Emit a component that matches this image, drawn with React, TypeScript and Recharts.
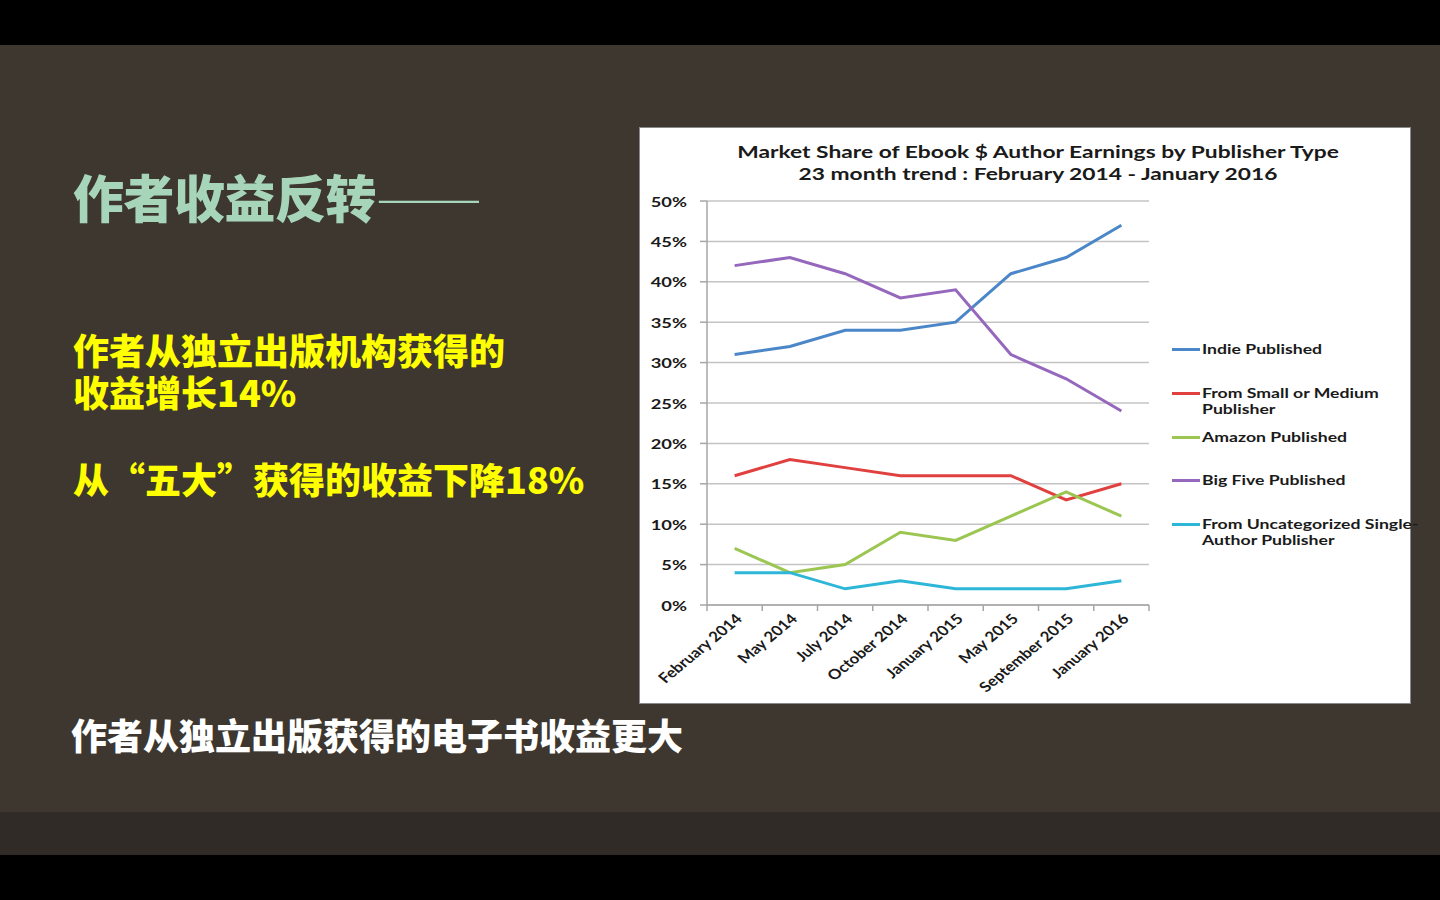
import React from 'react';
import { LineChart, Line, XAxis, YAxis, CartesianGrid } from 'recharts';

const categories = ['February 2014', 'May 2014', 'July 2014', 'October 2014', 'January 2015', 'May 2015', 'September 2015', 'January 2016'];
const indiePublished = [31, 32, 34, 34, 35, 41, 43, 47];
const smallMediumPublisher = [16, 18, 17, 16, 16, 16, 13, 15];
const amazonPublished = [7, 4, 5, 9, 8, 11, 14, 11];
const bigFivePublished = [42, 43, 41, 38, 39, 31, 28, 24];
const uncategorizedPublisher = [4, 4, 2, 3, 2, 2, 2, 3];
const yTicks = [0, 5, 10, 15, 20, 25, 30, 35, 40, 45, 50];

const chartTitle = ['Market Share of Ebook $ Author Earnings by Publisher Type', '23 month trend : February 2014 - January 2016'];
const slideTitle = '作者收益反转';
const slideTitleDash = '——';
const bulletA = ['作者从独立出版机构获得的', '收益增长14%'];
const bulletB = '从“五大”获得的收益下降18%';
const footer = '作者从独立出版获得的电子书收益更大';

const series = [
  { key: 'indie', name: ['Indie Published'], color: '#4b87c8', values: indiePublished },
  { key: 'small', name: ['From Small or Medium', 'Publisher'], color: '#e0403e', values: smallMediumPublisher },
  { key: 'amazon', name: ['Amazon Published'], color: '#9cc652', values: amazonPublished },
  { key: 'big', name: ['Big Five Published'], color: '#9568bd', values: bigFivePublished },
  { key: 'uncat', name: ['From Uncategorized Single-', 'Author Publisher'], color: '#2db6d7', values: uncategorizedPublisher },
];

const data = categories.map((c, i) => {
  const row: any = { x: i + 0.5, month: c };
  series.forEach((s) => { row[s.key] = s.values[i]; });
  return row;
});

const xTicks: number[] = [];
categories.forEach((_, i) => { xTicks.push(i, i + 0.5); });
xTicks.push(categories.length);

const FONT = 'Lato, "Open Sans", sans-serif';
const CJK = '"Noto Sans CJK SC", sans-serif';

const YTick = (props: any) => {
  const { x, y, payload } = props;
  return (
    <text transform={`translate(${x},${y}) scale(1.31,1)`} textAnchor="end" dominantBaseline="central"
      fontFamily={FONT} fontWeight={700} fontSize={14} fill="#1a1a1a">
      {`${payload.value}%`}
    </text>
  );
};

const XTick = (props: any) => {
  const { x, y, payload } = props;
  const v = payload.value;
  if (Number.isInteger(v)) {
    return <line x1={x} x2={x} y1={y} y2={y + 6} stroke="#a6a6a6" strokeWidth={1.5} />;
  }
  const label = categories[Math.floor(v)];
  return (
    <text transform={`translate(${x + 4},${y + 11}) scale(1.21,1) rotate(-45)`} textAnchor="end" dominantBaseline="central"
      fontFamily={FONT} fontWeight={700} fontSize={14} fill="#1a1a1a">
      {label}
    </text>
  );
};

export default function App() {
  return (
    <div style={{ position: 'fixed', left: 0, top: 0, width: 1440, height: 900, background: '#000', overflow: 'hidden' }}>
      <div style={{ position: 'absolute', left: 0, top: 45, width: 1440, height: 767, background: '#3d3730' }} />
      <div style={{ position: 'absolute', left: 0, top: 812, width: 1440, height: 43, background: '#302b27' }} />

      <div lang="zh-CN" style={{ position: 'absolute', left: 73, top: 170, fontFamily: CJK, fontWeight: 900, fontSize: 51, lineHeight: '52px', color: '#a7d5ba', whiteSpace: 'nowrap', letterSpacing: -0.5 }}>
        {slideTitle}
        <span style={{ display: 'inline-block', fontWeight: 300, transformOrigin: 'left center', transform: 'translateY(-2px) scaleX(1.25)' }}>{slideTitleDash}</span>
      </div>
      <div lang="zh-CN" style={{ position: 'absolute', left: 73, top: 328, fontFamily: CJK, fontWeight: 900, fontSize: 36, lineHeight: '42px', color: '#ffff00', whiteSpace: 'nowrap' }}>
        {bulletA.map((l) => <div key={l}>{l}</div>)}
      </div>
      <div lang="zh-CN" style={{ position: 'absolute', left: 73, top: 457, fontFamily: CJK, fontWeight: 900, fontSize: 36, lineHeight: '42px', color: '#ffff00', whiteSpace: 'nowrap' }}>
        {bulletB}
      </div>
      <div lang="zh-CN" style={{ position: 'absolute', left: 71, top: 713, fontFamily: CJK, fontWeight: 900, fontSize: 36, lineHeight: '42px', color: '#ffffff', whiteSpace: 'nowrap' }}>
        {footer}
      </div>

      <div style={{ position: 'absolute', left: 640, top: 128, width: 770, height: 575, background: '#fff', boxShadow: '0 0 0 1px #8a8a8a' }}>
        {chartTitle.map((t, i) => (
          <div key={t} style={{ position: 'absolute', left: 398, top: 14 + i * 22, transform: 'translateX(-50%) scaleX(1.34)', fontFamily: FONT, fontWeight: 700, fontSize: 17, lineHeight: '20px', color: '#1a1a1a', whiteSpace: 'nowrap' }}>
            {t}
          </div>
        ))}
        <LineChart width={770} height={575} data={data} margin={{ top: 73, right: 261, bottom: 0, left: 0 }}>
          <CartesianGrid horizontal vertical={false} stroke="#c4c4c4" strokeWidth={1.5} />
          <XAxis dataKey="x" type="number" domain={[0, categories.length]} ticks={xTicks} interval={0}
            height={98} tickLine={false} tickSize={0} tickMargin={0} axisLine={{ stroke: '#a6a6a6', strokeWidth: 1.5 }} tick={<XTick />} />
          <YAxis type="number" domain={[0, 50]} ticks={yTicks} interval={0} width={67} tickSize={7} tickMargin={13}
            tickLine={{ stroke: '#a6a6a6', strokeWidth: 1.5 }} axisLine={{ stroke: '#a6a6a6', strokeWidth: 1.5 }} tick={<YTick />} />
          {series.map((s) => (
            <Line key={s.key} dataKey={s.key} name={s.name.join(' ')} stroke={s.color} strokeWidth={3} dot={false}
              type="linear" isAnimationActive={false} />
          ))}
        </LineChart>
        {series.map((s, i) => (
          <div key={s.key} style={{ position: 'absolute', left: 532, top: 213 + i * 43.75 }}>
            <div style={{ position: 'absolute', left: 0, top: 7, width: 28, height: 3, background: s.color }} />
            <div style={{ position: 'absolute', left: 30, top: 0, transformOrigin: 'left top', transform: 'scaleX(1.26)', fontFamily: FONT, fontWeight: 700, fontSize: 14, lineHeight: '16px', color: '#1a1a1a', whiteSpace: 'nowrap' }}>
              {s.name.map((n) => <div key={n}>{n}</div>)}
            </div>
          </div>
        ))}
      </div>
    </div>
  );
}
